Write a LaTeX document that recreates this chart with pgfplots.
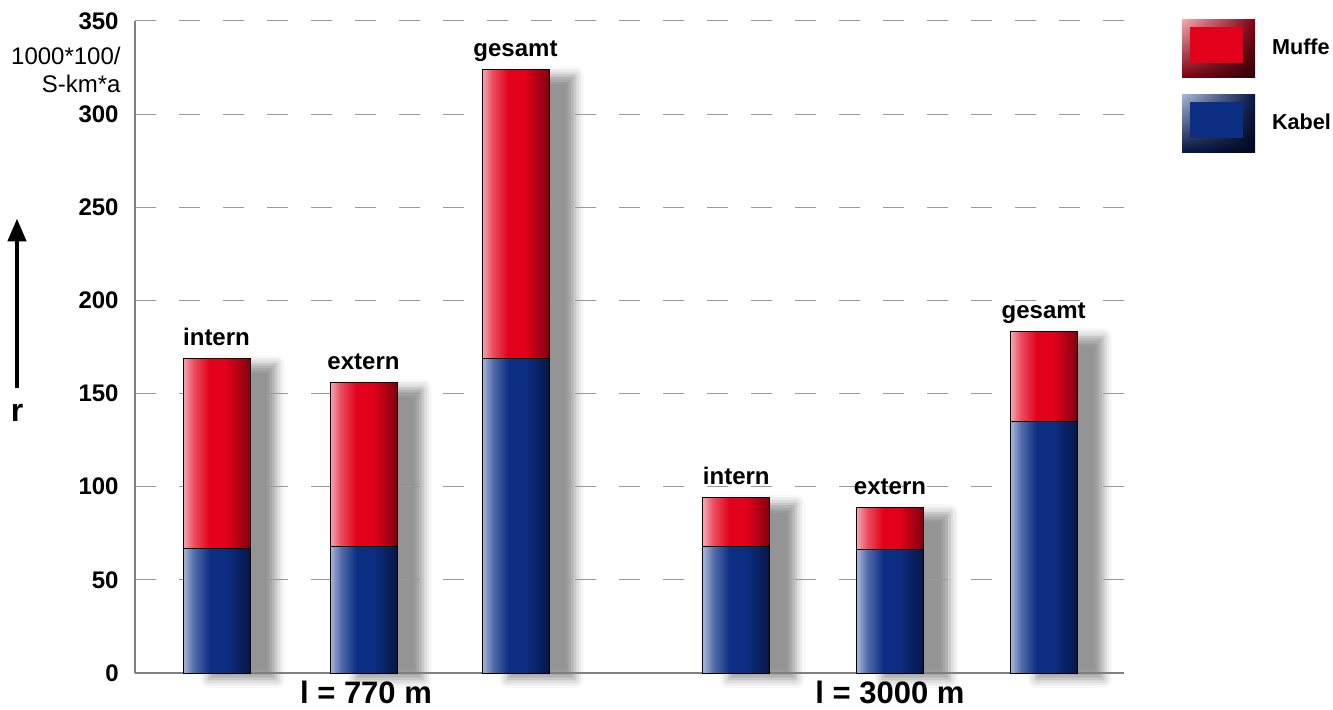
\documentclass[border=0pt]{standalone}
\usepackage{pgfplots}
\pgfplotsset{compat=1.18}
\usepackage{pgfplotstable}
\usepackage{fontspec}
\setmainfont{Liberation Sans}
\usetikzlibrary{shadows.blur,arrows.meta,shadings}

\definecolor{kabL}{RGB}{170,184,218}
\definecolor{kabM}{RGB}{12,46,130}
\definecolor{kabD}{RGB}{6,22,70}
\definecolor{kabDD}{RGB}{2,8,30}
\definecolor{mufL}{RGB}{247,168,178}
\definecolor{mufM}{RGB}{226,0,26}
\definecolor{mufD}{RGB}{130,0,16}
\definecolor{mufDD}{RGB}{50,0,5}

\pgfdeclarehorizontalshading{kabelshade}{100bp}{color(0bp)=(kabL); color(25bp)=(kabL); color(33bp)=(kabM!55!kabL); color(45bp)=(kabM); color(57bp)=(kabM); color(75bp)=(kabD); color(100bp)=(kabD)}
\pgfdeclarehorizontalshading{muffeshade}{100bp}{color(0bp)=(mufL); color(25bp)=(mufL); color(33bp)=(mufM!55!mufL); color(45bp)=(mufM); color(57bp)=(mufM); color(75bp)=(mufD); color(100bp)=(mufD)}

% bevelled legend box
\newcommand{\bevelbox}[4]{%
  \shade[draw=none, upper left=#1, upper right=#3, lower left=#3, lower right=#4] (0pt,-14.5pt) rectangle (36.5pt,14.5pt);
  \fill[draw=none, #2] (4pt,-7.5pt) rectangle (30.5pt,10.5pt);}

% x in px of the original layout
\pgfplotstableread{
x      kabel muffe total label
216.5  67    102   169   intern
363.5  68    88    156   extern
515.5  169   155   324   gesamt
736.3  68    26    94    intern
890.0  66.5  22.5  89    extern
1043.7 135   48.5  183.5 gesamt
}\data

\begin{document}
\begin{tikzpicture}
\useasboundingbox (0,0) rectangle (666.5pt,354.5pt);

% shadows (under the grid)
\begin{axis}[
    at={(67.5pt,18pt)}, anchor=south west,
    scale only axis, width=494.5pt, height=326pt,
    xmin=135, xmax=1124, ymin=0, ymax=350,
    hide axis, clip=false,
]
\addplot[ybar, bar width=67, bar shift=0pt, fill=white, draw=none,
    blur shadow={shadow xshift=13pt, shadow yshift=-3pt, shadow blur radius=4.5pt, shadow opacity=42}]
    table[x=x, y=total] {\data};
\end{axis}

\begin{axis}[
    at={(67.5pt,18pt)}, anchor=south west,
    scale only axis, width=494.5pt, height=326pt,
    xmin=135, xmax=1124, ymin=0, ymax=350,
    ybar, bar width=67, bar shift=0pt,
    clip=false,
    axis lines*=left,
    axis line style={black!50, line width=0.7pt},
    ytick={0,50,...,350},
    xtick={366,890},
    xticklabels={l = 770 m, l = 3000 m},
    major tick length=0pt,
    /pgf/number format/assume math mode=true,
    yticklabel style={font=\fontsize{12}{14}\selectfont\bfseries, inner sep=0pt, xshift=-8pt},
    xticklabel style={font=\fontsize{15.5}{18}\selectfont\bfseries, inner sep=0pt, yshift=-4pt},
    ymajorgrids,
    grid style={black!40, line width=0.5pt, dash pattern=on 10.5pt off 11.5pt},
    every node near coord/.append style={anchor=base, yshift=6.5pt, font=\fontsize{12}{14}\selectfont\bfseries, black},
    legend style={at={(1.0587,1.003)}, anchor=north west, draw=none, fill=none,
        inner sep=0pt, outer sep=0pt, row sep=8.5pt,
        font=\fontsize{10.8}{13}\selectfont\bfseries,
        /tikz/every odd column/.append style={column sep=6.5pt}},
    legend cell align=left,
]
\addlegendimage{legend image code/.code={\bevelbox{mufL}{mufM}{mufD}{mufDD}}}
\addlegendentry{Muffe}
\addlegendimage{legend image code/.code={\bevelbox{kabL}{kabM}{kabD}{kabDD}}}
\addlegendentry{Kabel}

% one path per bar so that every bar gets its own shading
% Muffe: drawn full height, Kabel part drawn over it
\pgfplotsinvokeforeach{0,...,5}{
\addplot[forget plot, bar shift=0pt, shade, shading=muffeshade, draw=black, line width=0.5pt,
    restrict expr to domain={\coordindex}{#1:#1},
    nodes near coords, point meta=explicit symbolic]
    table[x=x, y=total, meta=label] {\data};
}
\pgfplotsinvokeforeach{0,...,5}{
\addplot[forget plot, bar shift=0pt, shade, shading=kabelshade, draw=black, line width=0.5pt,
    restrict expr to domain={\coordindex}{#1:#1}]
    table[x=x, y=kabel] {\data};
}

% unit label and arrow
\node[anchor=north east, align=right, inner sep=0pt, font=\fontsize{12}{14}\selectfont]
    at (rel axis cs:0,1) [xshift=-7pt, yshift=-13pt] {1000*100/\\S-km*a};
\draw[line width=2.3pt, -{Triangle[length=11.5pt, width=9pt]}] (axis cs:17,153) -- (axis cs:17,244);
\node[font=\fontsize{16}{18}\selectfont\bfseries, inner sep=0pt] at (axis cs:17,139.5) {r};
\end{axis}
\end{tikzpicture}
\end{document}
